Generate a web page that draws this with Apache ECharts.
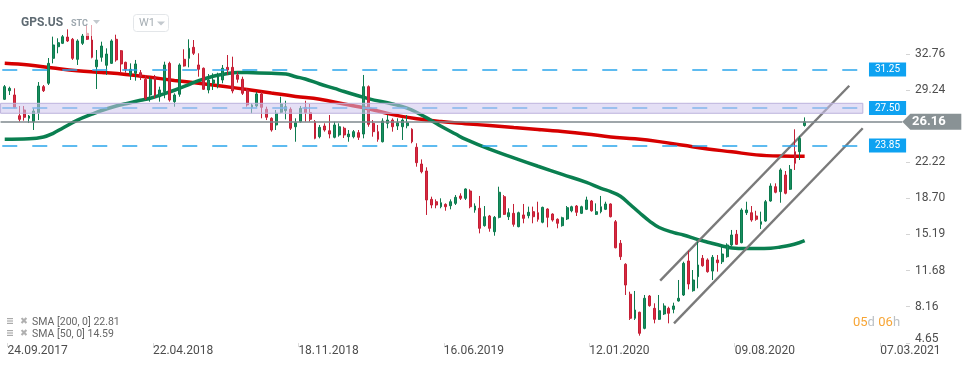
<!DOCTYPE html>
<html><head><meta charset="utf-8">
<script src="https://cdn.jsdelivr.net/npm/echarts@6/dist/echarts.min.js"></script>
<style>html,body{margin:0;padding:0;background:#fff;}#c{width:974px;height:368px;}</style>
</head><body><div id="c"></div>
<script>
const DAY = 86400000, WEEK = 7 * DAY;
const d = s => { const p = s.split('-').map(Number); return Date.UTC(p[0], p[1] - 1, p[2]); };

// ---- data (weekly candles, first candle week centred on 20.09.2017) ----
const firstCandle = '2017-09-20';
// [open, close, low, high]
const ohlc = [
[28.35,29.58,28.28,29.74],[29.19,29.42,28.77,29.58],[28.77,27.57,27.47,29.42],[26.75,26.40,26.17,27.70],
[27.31,26.60,26.27,27.70],[26.50,26.72,26.04,26.82],[26.17,27.21,25.36,27.50],[27.02,29.64,26.33,30.03],
[29.58,29.19,29.06,29.74],[29.91,31.85,29.74,32.37],[32.34,33.64,31.85,34.45],[33.47,33.86,32.83,34.29],
[33.80,34.44,33.73,34.61],[34.41,34.03,33.93,35.16],[34.19,32.34,32.18,34.32],[32.24,34.03,31.69,34.19],
[33.80,34.51,33.64,34.71],[34.77,34.19,34.12,35.58],[34.12,32.44,32.34,35.58],[31.52,32.18,29.35,33.15],
[32.44,33.54,32.01,33.96],[31.66,32.76,30.72,33.31],[31.85,34.03,31.79,34.19],[34.19,32.18,32.01,34.64],
[33.08,31.79,30.88,33.15],[31.95,31.27,30.94,32.01],[30.72,31.27,30.23,31.85],[30.88,31.79,30.16,32.18],
[30.94,30.55,30.23,31.20],[30.30,28.45,28.28,30.72],[28.77,30.30,28.12,30.55],[30.55,28.77,28.45,30.72],
[28.60,29.26,28.12,29.58],[29.09,31.69,28.45,32.01],[31.85,28.28,28.12,32.01],[28.12,28.77,27.63,28.93],
[28.84,31.69,28.60,31.85],[32.24,31.59,31.53,33.22],[32.34,33.31,31.46,34.19],[33.41,32.83,32.66,34.12],
[31.69,31.27,30.55,32.83],[31.37,29.32,29.26,31.45],[29.26,30.23,28.93,30.81],[29.91,30.23,29.26,30.88],
[29.74,30.55,29.42,30.94],[30.23,31.37,29.91,31.69],[31.46,31.20,30.72,32.66],[31.46,29.16,28.93,32.50],
[30.72,30.30,29.97,31.04],[30.30,28.93,28.77,30.55],[29.26,27.80,27.63,29.42],[27.57,27.80,26.99,27.96],
[27.70,28.87,27.57,29.09],[28.87,27.57,26.50,29.09],[27.38,26.60,26.33,27.63],[26.50,25.36,25.20,26.60],
[25.85,26.99,25.36,27.31],[27.08,27.89,26.99,28.60],[27.24,27.63,26.40,28.21],[27.38,25.53,25.36,27.57],
[25.68,26.07,24.22,26.50],[26.17,27.47,26.07,27.70],[27.57,27.05,26.17,28.21],[27.05,26.40,26.17,27.89],
[26.17,24.55,24.46,26.33],[24.71,25.62,24.55,25.85],[25.75,25.36,25.20,26.01],[25.29,24.97,24.55,26.82],
[24.65,25.85,24.55,26.17],[24.88,25.68,24.71,26.01],[25.53,24.88,24.58,25.68],[24.71,24.97,24.22,25.36],
[24.71,25.20,24.55,25.36],[25.10,24.65,24.39,25.36],[24.97,29.58,24.55,30.72],[29.58,25.91,25.68,29.70],
[26.01,25.20,24.71,26.33],[25.20,24.46,24.22,25.85],[24.22,26.24,24.15,26.50],[26.01,26.33,25.53,26.82],
[26.33,25.68,25.20,26.50],[25.75,26.07,25.36,26.50],[25.68,26.33,24.39,26.50],[25.78,26.07,25.53,26.82],
[25.43,24.22,24.07,25.53],[23.68,22.18,21.79,24.07],[22.05,21.30,21.14,22.50],[21.37,18.55,17.09,21.73],
[18.61,18.06,17.74,18.87],[18.38,18.06,17.74,18.61],[17.89,18.28,17.74,18.71],[18.12,17.89,17.50,18.22],
[17.99,18.38,17.64,18.61],[18.22,18.81,18.06,19.03],[18.94,18.71,18.55,19.20],[18.71,19.62,18.55,19.68],
[19.42,17.89,17.74,19.59],[17.57,17.96,17.31,18.22],[17.74,15.79,15.30,18.94],[16.05,16.92,15.95,17.96],
[16.99,15.79,15.46,17.09],[15.46,16.86,15.07,16.99],[16.86,19.30,16.76,19.84],[18.87,17.15,17.09,19.03],
[16.92,17.31,16.60,17.74],[17.25,16.18,15.95,18.16],[15.95,17.31,15.89,17.41],[17.09,16.76,16.28,18.16],
[17.02,17.35,16.76,17.90],[17.41,16.92,16.28,17.90],[17.31,16.67,16.44,18.38],[16.38,17.83,16.28,17.90],
[17.67,16.86,15.89,17.74],[17.18,16.60,16.44,17.25],[16.67,16.28,15.79,16.76],[16.05,16.82,15.95,16.92],
[16.70,17.80,16.60,17.96],[17.50,17.89,17.35,17.99],[17.96,17.35,16.99,18.06],[17.25,17.89,17.18,17.99],
[17.64,18.55,17.57,18.87],[18.45,17.50,17.41,18.55],[17.15,17.41,17.09,18.22],[17.41,17.89,17.25,18.94],
[17.64,18.16,17.57,18.38],[18.16,16.92,16.85,18.22],[16.43,13.90,13.84,16.60],[14.33,13.03,12.71,14.65],
[12.29,10.27,9.30,12.39],[9.37,7.03,6.87,9.62],[7.03,7.84,6.87,9.69],[7.62,5.57,5.34,7.67],
[6.05,8.98,5.96,9.30],[9.20,8.26,8.16,9.30],[8.00,6.93,6.54,8.49],[6.93,7.77,6.87,9.30],
[7.45,8.23,7.35,8.49],[8.00,7.52,6.54,8.16],[7.90,8.23,7.52,8.55],[8.72,8.98,8.65,10.76],
[9.30,12.38,9.20,12.54],[12.61,10.37,9.85,13.61],[9.72,10.76,9.62,11.73],[11.08,12.22,9.95,14.49],
[12.87,12.15,12.05,13.19],[12.71,11.57,11.47,12.87],[11.63,12.97,10.76,13.19],[12.71,12.44,11.57,13.19],
[12.54,13.29,12.32,14.07],[13.03,14.17,12.93,14.33],[14.17,15.14,14.07,15.63],[15.21,14.23,14.17,15.63],
[14.39,17.57,14.33,17.74],[17.31,17.57,17.09,18.38],[17.31,16.60,16.43,17.96],[16.99,16.67,16.53,17.50],
[16.18,16.43,15.73,17.41],[16.50,18.38,16.43,18.55],[18.45,19.91,18.38,20.17],[19.84,19.30,19.20,20.17],
[19.36,21.47,18.28,21.63],[20.98,19.20,19.10,21.37],[19.59,21.53,19.52,21.95],[23.25,22.12,21.47,25.43],
[23.25,24.55,22.44,24.78],[25.80,26.16,25.69,26.59]
];
// SMA readings: [week index, value]
const sma200 = [[0,31.86],[5,31.69],[10,31.40],[15,31.14],[20,30.97],[25,30.77],[30,30.49],[35,30.19],[40,29.92],
[45,29.62],[50,29.30],[55,28.96],[60,28.63],[65,28.35],[70,27.89],[75,27.43],[80,26.86],[85,26.45],[90,26.18],
[95,25.98],[100,25.79],[105,25.60],[110,25.42],[115,25.22],[120,24.98],[125,24.69],[130,24.50],[135,24.23],
[140,23.87],[145,23.51],[150,23.24],[155,22.94],[160,22.83],[165,22.81]];
const sma50 = [[0,24.46],[5,24.50],[8,24.68],[10,25.04],[12,25.56],[15,26.32],[18,26.90],[20,27.26],[23,27.70],
[25,27.92],[28,28.25],[30,28.45],[33,28.90],[35,29.23],[38,29.79],[40,30.17],[43,30.60],[45,30.77],[48,30.97],
[50,30.95],[55,30.88],[58,30.81],[60,30.55],[62,30.33],[65,29.84],[68,29.41],[70,29.11],[75,28.42],[80,27.89],
[83,27.50],[85,27.07],[88,26.29],[90,25.73],[93,24.97],[95,24.47],[100,23.49],[105,22.65],[110,21.83],
[115,21.04],[120,20.27],[123,19.68],[125,19.36],[127,18.92],[129,18.11],[131,17.28],[133,16.50],[135,15.87],
[138,15.37],[140,15.14],[143,14.69],[145,14.44],[148,14.07],[150,13.88],[153,13.82],[155,13.82],[158,13.85],
[160,13.97],[162,14.14],[164,14.41],[165,14.59]];
const xTickLabels = ['24.09.2017','22.04.2018','18.11.2018','16.06.2019','12.01.2020','09.08.2020','07.03.2021'];
const yTickLabels = [4.65, 8.16, 11.68, 15.19, 18.70, 22.22, 29.24, 32.76];
const levels = [31.25, 27.50, 23.85];
const zone = [26.99, 27.96];
const lastPrice = 26.16;
const channelUpper = [[135.2, 10.69], [174.2, 29.67]];
const channelLower = [[138.05, 6.54], [176.98, 25.53]];
const annotStart = '2017-09-14', levelEnd = '2021-02-03', zoneEnd = '2021-02-10', priceEnd = '2021-04-08';
const smaLegend = ['SMA [200, 0] 22.81', 'SMA [50, 0] 14.59'];

// ---- helpers ----
const t0 = d(firstCandle);
const wk = w => t0 + w * WEEK;
const parseDMY = s => { const p = s.split('.').map(Number); return Date.UTC(p[2], p[1] - 1, p[0]); };
const xTickTimes = xTickLabels.map(parseDMY);
const PXW = 4.848, GRIDW = 906, T24 = xTickTimes[0], X24 = 7.5;
const xMin = T24 - X24 / PXW * WEEK;
const xMax = T24 + (GRIDW - X24) / PXW * WEEK;
const yMax = 38.017, yMin = 4.626;

const candleData = ohlc.map((c, i) => [wk(i), c[0], c[1], c[2], c[3]]);
const s200 = sma200.map(p => [wk(p[0]), p[1]]);
const s50 = sma50.map(p => [wk(p[0]), p[1]]);
const upper = channelUpper.map(p => [wk(p[0]), p[1]]);
const lower = channelLower.map(p => [wk(p[0]), p[1]]);

const BLUE = '#2aa5ec';
const levelLines = levels.map(v => [
  {coord: [d(annotStart), v], label: {formatter: v.toFixed(2)}},
  {coord: [d(levelEnd), v]}
]);

const legendRow = (y, text) => ({type: 'group', x: 7, y: y, z: 51, children: [
  {type: 'rect', shape: {x: 0, y: 0, width: 6, height: 1.2}, style: {fill: '#aaa'}},
  {type: 'rect', shape: {x: 0, y: 2.4, width: 6, height: 1.2}, style: {fill: '#aaa'}},
  {type: 'rect', shape: {x: 0, y: 4.8, width: 6, height: 1.2}, style: {fill: '#aaa'}},
  {type: 'text', x: 13, y: 3.3, style: {text: '\u2716', font: '9.5px "DejaVu Sans"', fill: '#b0b0b0', verticalAlign: 'middle'}},
  {type: 'text', x: 25, y: 4, style: {text: text, font: '10.5px Roboto', fill: '#666', verticalAlign: 'middle'}}
]});

const chart = echarts.init(document.getElementById('c'));
chart.setOption({
  animation: false,
  textStyle: {fontFamily: 'Roboto'},
  grid: {left: 0, right: 974 - GRIDW, top: 0, bottom: 25},
  xAxis: {
    type: 'value', min: xMin, max: xMax,
    axisLine: {show: false}, splitLine: {show: false},
    axisTick: {show: true, customValues: xTickTimes, length: 4, lineStyle: {color: '#dcdcdc'}},
    axisLabel: {customValues: xTickTimes, align: 'left', margin: 2, color: '#4d4d4d', fontSize: 12,
      fontFamily: 'Roboto', formatter: v => { const k = xTickTimes.indexOf(v); return k >= 0 ? xTickLabels[k] : ''; }}
  },
  yAxis: {
    type: 'value', position: 'right', min: yMin, max: yMax,
    axisLine: {show: false}, splitLine: {show: false},
    axisTick: {show: true, customValues: yTickLabels, length: 4, lineStyle: {color: '#d4d4d4'}},
    axisLabel: {customValues: yTickLabels, margin: 9, color: '#4d4d4d', fontSize: 12, fontFamily: 'Roboto',
      formatter: v => Math.abs(v - yTickLabels[0]) < 1e-6 ? '{low|' + v.toFixed(2) + '}' : v.toFixed(2),
      rich: {low: {padding: [0, 0, 8, 0], fontSize: 12, color: '#4d4d4d', fontFamily: 'Roboto'}}}
  },
  series: [
    {
      type: 'candlestick', data: candleData, barWidth: 2.4, z: 2,
      itemStyle: {color: '#178f5f', color0: '#d92a40', borderColor: '#0d7a4e', borderColor0: '#c41f35', borderWidth: 1},
      markLine: {
        silent: true, symbol: ['none', 'none'], z: 3, animation: false,
        lineStyle: {color: BLUE, width: 1.5, type: [15, 15], dashOffset: 28.3},
        label: {show: true, position: 'end', distance: 11, color: '#fff', backgroundColor: '#0ea2f1',
          fontSize: 10, lineHeight: 12, padding: [1, 6, 1, 6], fontFamily: 'Roboto'},
        data: levelLines.concat([[
          {coord: [d(annotStart), lastPrice], lineStyle: {color: '#7f898e', width: 1.5, type: 'solid'}, label: {show: false}},
          {coord: [d(priceEnd), lastPrice]}
        ]])
      },
      markPoint: {
        silent: true, z: 6, animation: false,
        data: [{
          coord: [d(priceEnd), lastPrice], symbol: 'path://M0,8L8,0L59,0L59,16L8,16Z', symbolSize: [59, 16],
          symbolKeepAspect: false, symbolOffset: ['50%', 0], itemStyle: {color: '#899295'},
          label: {show: true, position: 'inside', formatter: lastPrice.toFixed(2), color: '#fff',
            fontWeight: 'bold', fontSize: 13, fontFamily: 'Roboto', offset: [-3, 0]}
        }]
      }
    },
    {
      type: 'line', data: s200, smooth: 0.4, showSymbol: false, z: 2, silent: true,
      lineStyle: {color: '#d60000', width: 3.5}
    },
    {
      type: 'line', data: s50, smooth: 0.4, showSymbol: false, z: 2, silent: true,
      lineStyle: {color: '#0a7f50', width: 3.5},
      markArea: {
        silent: true, z: 4,
        itemStyle: {color: 'rgba(206,196,236,0.55)', borderColor: '#bdb3dd', borderWidth: 1},
        data: [[{coord: [d(annotStart), zone[0]]}, {coord: [d(zoneEnd), zone[1]]}]]
      }
    },
    {type: 'line', data: upper, showSymbol: false, silent: true, z: 2, lineStyle: {color: '#7a7a7a', width: 2.4}},
    {type: 'line', data: lower, showSymbol: false, silent: true, z: 2, lineStyle: {color: '#7a7a7a', width: 2.4}}
  ],
  graphic: [
    {type: 'rect', shape: {x: 84, y: 10, width: 22, height: 26}, style: {fill: 'rgba(255,255,255,0.6)'}, z: 50},
    {type: 'text', x: 21, y: 23, style: {text: 'GPS.US', font: 'bold 12px Roboto', fill: '#5f6b73', verticalAlign: 'middle'}, z: 51},
    {type: 'text', x: 71, y: 24, style: {text: 'STC', font: 'bold 9px Roboto', fill: '#9ea8af', verticalAlign: 'middle'}, z: 51},
    {type: 'polygon', shape: {points: [[93, 20], [100, 20], [96.5, 24]]}, style: {fill: '#c3c9ce'}, z: 51},
    {type: 'rect', shape: {x: 133.5, y: 14.5, width: 35, height: 17, r: 3}, style: {fill: '#fff', stroke: '#e3e6e9', lineWidth: 1}, z: 51},
    {type: 'text', x: 139, y: 23.5, style: {text: 'W1', font: '11px Roboto', fill: '#a6aeb4', verticalAlign: 'middle'}, z: 52},
    {type: 'polygon', shape: {points: [[157, 21.5], [165, 21.5], [161, 25.5]]}, style: {fill: '#c3c9ce'}, z: 52},
    legendRow(318, smaLegend[0]),
    legendRow(330, smaLegend[1]),
    {type: 'text', x: 853, y: 323, z: 51, style: {
      text: '{o|05}{g|d} {o|06}{g|h}', verticalAlign: 'middle',
      rich: {o: {fill: '#f7a535', font: '13px Roboto'}, g: {fill: '#bcc1c5', font: '13px Roboto'}}
    }}
  ]
});
</script></body></html>
